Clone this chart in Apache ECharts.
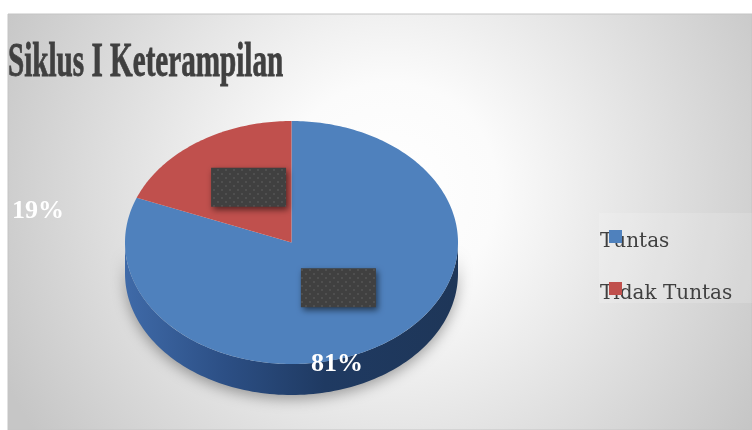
<!DOCTYPE html>
<html>
<head>
<meta charset="utf-8">
<script src="https://cdn.jsdelivr.net/npm/echarts@6/dist/echarts.min.js"></script>
<style>
  html, body { margin: 0; padding: 0; background: #ffffff; }
  #chart { width: 752px; height: 430px; }
</style>
</head>
<body>
<div id="chart"></div>
<script>
// ---- data ----
const chartTitle = 'Siklus I Keterampilan';
const categories = ['Tuntas', 'Tidak Tuntas'];
const values = [81, 19];

// ---- styles / layout ----
const palette = ['#4f81bd', '#c0504d'];
const PIE = { cx: 291.5, cy: 242.5, rx: 166.5, ry: 121.5, depth: 31 };
const pctLabelPos = [[337, 364], [38, 211]];

const total = values.reduce((a, b) => a + b, 0);

// dotted pattern for label boxes
const pat = document.createElement('canvas');
pat.width = 8; pat.height = 8;
(function () {
  const c = pat.getContext('2d');
  c.fillStyle = '#404040'; c.fillRect(0, 0, 8, 8);
  c.fillStyle = '#4f4f4f';
  c.fillRect(1, 1, 2, 2);
  c.fillRect(5, 5, 2, 2);
})();

function ellPt(t, dy) {
  return [PIE.cx + PIE.rx * Math.cos(t), PIE.cy + (dy || 0) + PIE.ry * Math.sin(t)];
}

function sliceAngles(idx) {
  let acc = 0;
  for (let i = 0; i < idx; i++) acc += values[i];
  const a0 = -Math.PI / 2 + acc / total * Math.PI * 2;
  const a1 = a0 + values[idx] / total * Math.PI * 2;
  return [a0, a1];
}

function renderItem(params, api) {
  const idx = params.dataIndex;
  const v = api.value(0);
  const [a0, a1] = sliceAngles(idx);
  const children = [];
  const color = palette[idx];

  // visible side (front half)
  [[0, Math.PI], [2 * Math.PI, 3 * Math.PI], [-2 * Math.PI, -Math.PI]].forEach(function (rng) {
    const s = Math.max(a0, rng[0]), e = Math.min(a1, rng[1]);
    if (e > s) {
      const n = Math.max(4, Math.ceil((e - s) / (Math.PI * 2) * 240));
      const pts = [];
      for (let k = 0; k <= n; k++) pts.push(ellPt(s + (e - s) * k / n, 0));
      for (let k = n; k >= 0; k--) pts.push(ellPt(s + (e - s) * k / n, PIE.depth));
      children.push({
        type: 'polygon',
        shape: { points: pts },
        z2: 1,
        style: {
          fill: idx === 0 ? {
            type: 'linear', x: 0, y: 0, x2: 1, y2: 0,
            colorStops: [
              { offset: 0, color: '#3f6aa8' },
              { offset: 0.3, color: '#2c4f85' },
              { offset: 0.6, color: '#1f3a62' },
              { offset: 1, color: '#1e3658' }
            ]
          } : '#8e3a38',
          shadowColor: 'rgba(0,0,0,0.35)',
          shadowBlur: 14,
          shadowOffsetY: 4
        }
      });
    }
  });

  // top face
  const n = Math.max(4, Math.ceil((a1 - a0) / (Math.PI * 2) * 360));
  const top = [[PIE.cx, PIE.cy]];
  for (let k = 0; k <= n; k++) top.push(ellPt(a0 + (a1 - a0) * k / n, 0));
  children.push({
    type: 'polygon',
    shape: { points: top },
    z2: 2,
    style: { fill: color }
  });

  // data label box (dark placeholder)
  const mid = (a0 + a1) / 2;
  const bx = PIE.cx + 0.48 * PIE.rx * Math.cos(mid) + 2;
  const by = PIE.cy + 0.5 * PIE.ry * Math.sin(mid) - 5;
  children.push({
    type: 'rect',
    shape: { x: bx - 37.5, y: by - 19.5, width: 75, height: 39 },
    z2: 3,
    style: {
      fill: { image: pat, repeat: 'repeat' },
      shadowColor: 'rgba(0,0,0,0.55)',
      shadowBlur: 6,
      shadowOffsetX: 2,
      shadowOffsetY: 3
    }
  });

  // percentage label
  children.push({
    type: 'text',
    z2: 4,
    style: {
      text: Math.round(v / total * 100) + '%',
      x: pctLabelPos[idx][0],
      y: pctLabelPos[idx][1],
      fill: '#ffffff',
      font: 'bold 26px "Liberation Serif"',
      textAlign: 'center',
      textVerticalAlign: 'middle'
    }
  });

  return { type: 'group', children: children };
}

// legend graphics from categories
const legendGraphics = [];
categories.forEach(function (name, i) {
  const y = 242 + i * 52;
  legendGraphics.push({
    type: 'text', x: 600, y: y, z: 5,
    style: { text: name, font: '20px "DejaVu Serif"', fill: '#404040', textVerticalAlign: 'middle' }
  });
  legendGraphics.push({
    type: 'rect', z: 6,
    shape: { x: 609, y: y - 12, width: 13, height: 13 },
    style: { fill: palette[i] }
  });
});

const chart = echarts.init(document.getElementById('chart'), null, { renderer: 'canvas' });
chart.setOption({
  backgroundColor: '#ffffff',
  animation: false,
  graphic: [
    {
      type: 'rect', z: -10,
      shape: { x: 8, y: 14, width: 744, height: 416 },
      style: {
        fill: {
          type: 'radial', x: 390, y: 190, r: 430, global: true,
          colorStops: [
            { offset: 0, color: '#ffffff' },
            { offset: 0.25, color: '#fbfbfb' },
            { offset: 1, color: '#c6c6c6' }
          ]
        },
        stroke: '#c4c4c4', lineWidth: 1
      }
    },
    {
      type: 'rect', z: -5,
      shape: { x: 599, y: 213, width: 153, height: 90 },
      style: { fill: 'rgba(255,255,255,0.15)' }
    },
    {
      type: 'text', x: 8, y: 64, scaleX: 0.607, z: 5,
      style: {
        text: chartTitle, x: 0, y: 0,
        font: 'bold 48px "Liberation Serif"', fill: '#404040',
        stroke: '#404040', lineWidth: 0.8,
        textVerticalAlign: 'middle'
      }
    }
  ].concat(legendGraphics),
  series: [{
    type: 'custom',
    coordinateSystem: 'none',
    renderItem: renderItem,
    data: values.map(function (v, i) { return { name: categories[i], value: v }; })
  }]
});
</script>
</body>
</html>
